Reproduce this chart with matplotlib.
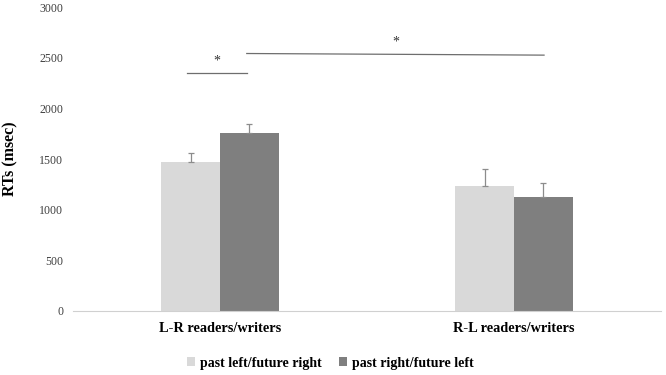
import matplotlib
matplotlib.use("Agg")
import matplotlib.pyplot as plt
import numpy as np

categories = ["L-R readers/writers", "R-L readers/writers"]
series_names = ["past left/future right", "past right/future left"]
light_vals = [1470, 1238]
dark_vals = [1760, 1126]
light_err = [90, 168]
dark_err = [82, 138]
sig_short = [0.387, 0.591, 2348]
sig_long = [0.591, 1.602, 2535]
yticks = [0, 500, 1000, 1500, 2000, 2500, 3000]

plt.rcParams['font.family'] = ['Liberation Serif', 'DejaVu Serif']

fig = plt.figure(figsize=(6.66, 3.75), dpi=100)
ax = fig.add_axes([0.1096, 0.1707, 0.883, 0.810])

x = np.array([0.5, 1.5])
w = 0.2
ax.bar(x - w/2, light_vals, w, color="#d9d9d9", label=series_names[0])
ax.bar(x + w/2, dark_vals, w, color="#7f7f7f", label=series_names[1])
ax.errorbar(x - w/2, light_vals, yerr=[np.zeros(2), light_err], fmt='none',
            ecolor="#8c8c8c", elinewidth=0.9, capsize=2, capthick=0.9)
ax.errorbar(x + w/2, dark_vals, yerr=[np.zeros(2), dark_err], fmt='none',
            ecolor="#8c8c8c", elinewidth=0.9, capsize=2, capthick=0.9)

ax.plot(sig_short[:2], [sig_short[2]] * 2, color="#6e6e6e", lw=0.9)
ax.text(np.mean(sig_short[:2]), sig_short[2] + 60, "*", ha="center", va="bottom", fontsize=10, color="#333333")
ax.plot(sig_long[:2], [sig_long[2] + 8, sig_long[2] - 8], color="#6e6e6e", lw=0.9)
ax.text(np.mean(sig_long[:2]), sig_long[2] + 60, "*", ha="center", va="bottom", fontsize=10, color="#333333")

ax.set_xlim(0, 2)
ax.set_ylim(0, 3000)
ax.set_yticks(yticks)
ax.set_yticklabels([str(t) for t in yticks], fontsize=8.6, color="#404040")
ax.set_xticks(x)
ax.set_xticklabels(categories, fontsize=10.3, fontweight="bold")
ax.tick_params(axis="both", length=0)
ax.tick_params(axis="y", pad=7)
ax.tick_params(axis="x", pad=8)
for s in ["top", "right", "left"]:
    ax.spines[s].set_visible(False)
ax.spines["bottom"].set_color("#d0d0d0")
ax.spines["bottom"].set_linewidth(0.8)
ax.set_ylabel("RTs (msec)", fontsize=11.5, fontweight="bold", labelpad=15)

leg = fig.legend(loc="center", bbox_to_anchor=(0.496, 0.032), ncol=2, frameon=False,
                 prop={"size": 10, "weight": "bold"}, handlelength=0.55, handleheight=0.55,
                 handletextpad=0.35, columnspacing=1.3)

fig.savefig("out.png", dpi=100)
